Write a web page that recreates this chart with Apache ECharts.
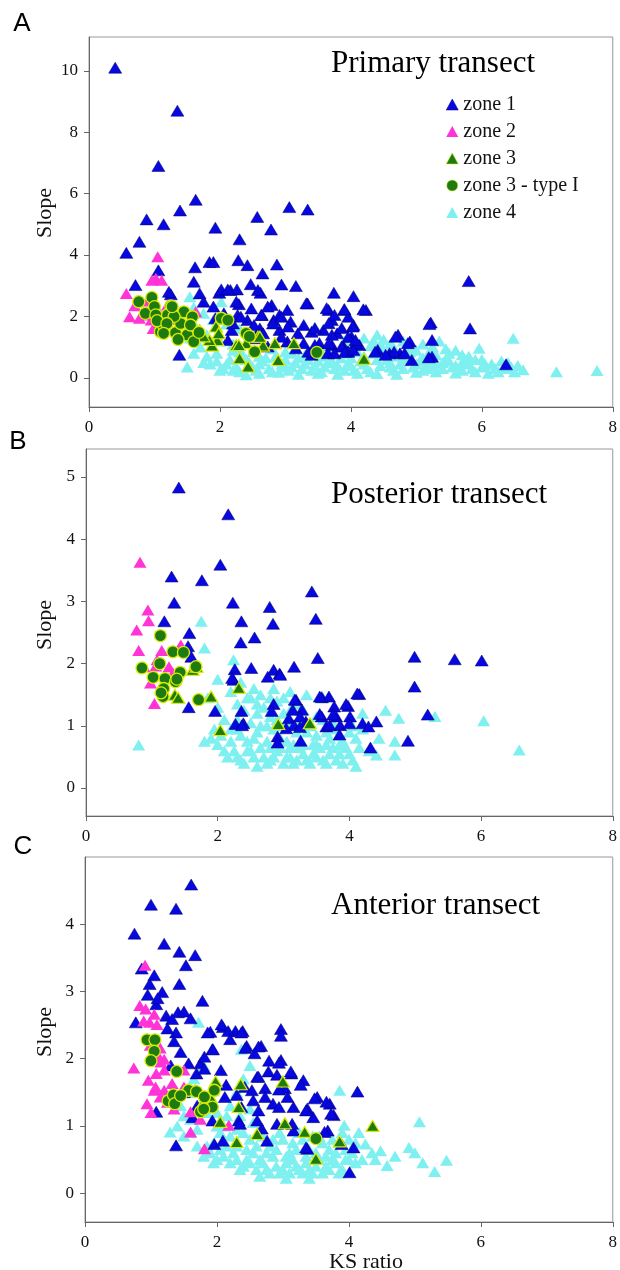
<!DOCTYPE html>
<html lang="en">
<head>
<meta charset="UTF-8">
<title>KS ratio vs slope</title>
<script src="https://cdn.jsdelivr.net/npm/echarts@6.0.0/dist/echarts.min.js"></script>
<style>
body {margin: 0; padding: 0; background: #fff;}
#main {width: 620px; height: 1270px;}
</style>
</head>
<body>
<div id="main"></div>
<script>
// ---- data: [KS ratio, slope] ----
var zoneNames = ['zone 1', 'zone 2', 'zone 3', 'zone 3 - type I', 'zone 4'];
var xTicks = [0, 2, 4, 6, 8];
var yTicksA = [0, 2, 4, 6, 8, 10];
var yTicksB = [0, 1, 2, 3, 4, 5];
var yTicksC = [0, 1, 2, 3, 4];
var panelTitles = ['Primary transect', 'Posterior transect', 'Anterior transect'];

// A: primary transect
var aZone1 = [[0.40,10.1],[1.35,8.7],[1.06,6.9],[1.63,5.8],[1.39,5.45],[0.88,5.16],[1.14,5.0],[3.06,5.56],[3.34,5.48],[2.57,5.24],[1.93,4.89],[2.78,4.83],[2.30,4.51],[0.77,4.43],[0.57,4.07],[1.06,3.5],[1.62,3.6],[1.84,3.77],[1.90,3.77],[2.28,3.83],[2.42,3.67],[2.87,3.69],[2.65,3.40],[1.60,3.13],[0.71,3.02],[2.47,3.05],[2.94,3.04],[3.16,2.99],[5.80,3.15],[2.62,2.77],[1.25,2.72],[1.69,2.75],[1.99,2.77],[2.16,2.86],[2.26,2.88],[3.74,2.77],[4.04,2.66],[3.34,2.42],[2.29,2.40],[2.79,2.37],[3.66,2.21],[3.90,2.21],[4.23,2.21],[1.75,2.48],[2.48,2.26],[3.03,2.21],[2.91,2.05],[2.64,2.05],[2.27,2.05],[1.93,1.94],[2.42,1.88],[2.82,1.88],[3.08,1.83],[3.28,1.72],[3.71,1.88],[4.04,1.72],[5.22,1.80],[5.82,1.61],[2.18,1.56],[2.61,1.61],[2.91,1.56],[3.40,1.50],[3.58,1.56],[3.79,1.45],[4.01,1.34],[4.72,1.40],[5.24,1.23],[4.90,1.18],[2.12,1.23],[2.54,1.29],[3.03,1.18],[3.28,1.13],[3.52,1.13],[3.71,1.07],[3.89,1.02],[4.13,1.07],[4.41,0.91],[4.59,0.80],[4.75,0.80],[4.93,0.58],[5.24,0.69],[1.38,0.75],[3.40,0.75],[3.65,0.80],[3.95,0.86],[6.37,0.44],[3.16,0.96],[1.22,2.8],[2.02,2.88],[2.12,2.88],[2.58,2.86],[1.9,2.32],[2.25,2.48],[2.73,2.32],[3.32,2.43],[3.63,2.27],[2.06,2.1],[2.32,1.99],[2.63,2.05],[2.94,1.99],[3.75,2.05],[3.96,1.99],[2.2,1.77],[2.52,1.72],[2.81,1.77],[3.04,1.67],[3.45,1.62],[3.66,1.78],[3.86,1.62],[2.66,1.45],[2.94,1.34],[3.19,1.45],[3.71,1.4],[3.96,1.34],[2.73,1.02],[3.45,1.07],[3.66,1.13],[3.86,1.02],[4.07,1.13],[3.35,0.85],[3.75,0.8],[3.96,0.85],[3.9,2.24],[4.19,2.23],[4.03,1.67],[5.2,1.75],[4.68,1.34],[4.87,1.13],[4.07,1.23],[4.37,0.85],[4.66,0.85],[4.53,0.75],[4.82,0.8],[5.19,0.67],[3.91,0.85],[4.04,0.91]];
var aZone2 = [[0.57,2.75],[0.62,1.99],[1.05,3.94],[1.02,3.24],[1.11,3.18],[0.96,3.18],[0.95,1.88],[0.98,1.61],[0.77,1.94],[1.2,2.37],[0.7,2.35],[1.2,2.27],[1.63,2.15],[0.85,2.05],[1.1,1.7],[1.3,1.9],[0.9,2.5],[1.05,2.2]];
var aZone3 = [[1.94,1.67],[1.96,1.23],[2.25,1.07],[2.40,1.13],[2.58,1.34],[2.66,1.05],[2.84,1.13],[3.13,1.13],[2.30,0.64],[2.43,0.37],[2.89,0.58],[1.68,1.50],[1.88,1.05],[4.2,0.62],[1.69,1.56],[1.84,1.23],[1.98,1.45],[2.29,1.07],[2.61,1.34],[1.75,1.35]];
var aZone3t1 = [[0.76,2.48],[0.96,2.62],[0.86,2.1],[1.0,2.32],[1.02,2.05],[1.25,2.34],[1.2,2.05],[1.45,2.15],[1.58,1.99],[1.09,1.5],[1.17,1.75],[1.32,1.47],[1.4,1.77],[1.5,1.4],[1.6,1.18],[1.55,1.72],[2.02,1.94],[2.12,1.88],[2.4,1.45],[2.53,0.85],[3.48,0.83],[1.3,2.0],[1.14,1.7],[1.68,1.48],[1.04,1.86],[1.36,1.25],[1.27,2.32],[1.19,1.77],[1.14,1.45],[2.45,1.35]];
var aZone4 = [[1.50,0.35],[1.54,2.64],[2.02,2.48],[1.6,2.3],[1.75,2.1],[1.9,1.9],[2.1,1.75],[2.3,1.6],[1.55,1.3],[1.7,1.0],[1.8,0.7],[1.95,0.55],[6.48,1.29],[5.96,0.96],[7.14,0.2],[7.76,0.24],[6.63,0.26],[6.45,0.35],[6.2,0.3],[6.05,0.45],[5.85,0.3],[5.7,0.5],[5.55,0.35],[5.45,0.6],[5.3,0.45],[5.15,0.3],[5.05,0.55],[4.95,0.35],[4.85,0.7],[4.75,0.45],[4.65,0.25],[4.55,0.6],[4.45,0.4],[4.35,0.8],[4.25,0.3],[4.15,0.55],[4.05,0.25],[3.95,0.45],[3.85,0.65],[3.75,0.3],[3.65,0.5],[3.55,0.2],[3.45,0.4],[3.35,0.6],[3.25,0.3],[3.15,0.5],[3.05,0.25],[2.95,0.45],[2.85,0.7],[2.75,0.3],[2.65,0.55],[2.55,0.25],[2.45,0.5],[2.35,0.75],[2.25,0.35],[2.15,0.6],[2.05,0.3],[1.95,0.8],[1.85,0.45],[2.2,0.9],[2.5,0.85],[2.8,0.95],[3.1,0.8],[3.4,0.85],[3.7,0.9],[4.0,0.95],[4.3,1.05],[4.6,1.1],[4.5,1.25],[4.9,1.0],[5.2,0.85],[5.5,0.8],[5.8,0.7],[6.0,0.6],[6.3,0.55],[3.9,1.2],[4.2,1.3],[4.7,1.35],[4.4,1.4],[5.1,1.1],[5.35,1.2],[2.6,0.15],[2.9,0.18],[3.2,0.12],[3.5,0.15],[3.8,0.12],[4.1,0.15],[4.4,0.14],[4.7,0.12],[5.0,0.18],[5.3,0.2],[5.6,0.16],[5.9,0.2],[6.1,0.15],[2.3,0.2],[2.0,0.25],[1.75,0.5],[2.6,0.7],[3.0,0.6],[3.3,0.75],[3.6,0.7],[3.9,0.8],[4.2,0.7],[4.5,0.75],[4.8,0.55],[5.1,0.65],[5.4,0.5],[5.75,0.55],[6.5,0.2],[6.35,0.3],[2.4,0.1],[3.0,0.35],[3.6,0.35],[4.0,0.4],[4.6,0.35],[5.2,0.35],[1.65,1.6],[1.8,1.4],[2.0,1.2],[2.2,1.1],[1.6,0.8],[2.1,0.45],[2.2,0.25],[2.3,0.85],[2.4,0.6],[2.5,0.35],[2.6,0.45],[2.7,0.65],[2.8,0.2],[2.9,0.55],[3.0,0.85],[3.1,0.35],[3.2,0.65],[3.3,0.45],[3.4,0.25],[3.5,0.55],[3.6,0.85],[3.7,0.6],[3.8,0.4],[3.9,0.25],[4.0,0.65],[4.1,0.85],[4.2,0.45],[4.3,0.2],[4.4,0.6],[4.5,0.9],[4.6,0.5],[4.7,0.7],[4.8,0.3],[4.9,0.85],[5.0,0.45],[5.1,0.25],[5.2,0.6],[5.3,0.75],[5.4,0.3],[5.5,0.55],[5.6,0.4],[5.7,0.25],[5.8,0.45],[5.9,0.6],[6.0,0.35],[6.15,0.45],[6.25,0.2],[6.4,0.5],[6.55,0.4],[4.45,1.1],[4.8,1.2],[5.0,0.9],[5.25,1.0],[5.45,0.95],[4.65,1.0],[4.35,1.2],[4.1,1.1],[5.6,0.9],[5.7,0.75]];

// B: posterior transect
var bZone1 = [[1.41,4.83],[2.16,4.40],[2.04,3.59],[1.30,3.40],[1.76,3.34],[3.43,3.16],[1.34,2.98],[2.23,2.98],[2.79,2.91],[3.49,2.72],[2.36,2.68],[2.84,2.64],[1.19,2.68],[1.57,2.49],[2.56,2.42],[2.35,2.34],[1.55,2.28],[1.6,2.11],[4.99,2.11],[5.6,2.07],[6.01,2.05],[3.52,2.09],[3.16,1.95],[2.51,1.93],[2.26,1.91],[2.85,1.9],[2.94,1.84],[2.76,1.79],[2.24,1.74],[4.99,1.63],[4.15,1.51],[3.19,1.42],[3.58,1.46],[3.69,1.47],[3.98,1.32],[2.85,1.35],[3.28,1.26],[3.77,1.31],[1.56,1.3],[1.96,1.24],[2.36,1.24],[2.82,1.24],[5.19,1.18],[3.08,1.12],[3.58,1.15],[3.8,1.15],[4.01,1.15],[4.41,1.07],[4.2,1.04],[4.29,0.99],[2.27,1.03],[2.39,1.04],[3.16,1.01],[3.34,1.07],[3.65,0.99],[3.86,1.01],[2.91,0.83],[2.91,0.73],[3.26,0.76],[3.85,0.86],[4.89,0.76],[4.32,0.65],[2.22,1.77],[3.17,1.42],[3.55,1.47],[4.12,1.52],[3.14,1.26],[3.25,1.15],[3.55,1.19],[3.75,1.18],[2.37,1.01],[3.04,0.96],[3.25,0.98],[3.7,1.01],[4.0,1.04],[3.95,1.35],[2.95,1.82]];
var bZone2 = [[0.82,3.63],[0.94,2.86],[0.95,2.69],[0.77,2.54],[0.8,2.21],[1.15,2.21],[1.08,2.06],[1.44,2.3],[0.98,1.69],[1.04,1.36],[1.14,1.58],[1.26,1.95],[1.4,2.22],[1.06,1.96],[1.32,1.85],[0.88,1.95]];
var bZone3 = [[2.32,1.61],[1.9,1.47],[1.35,1.5],[1.62,1.9],[2.04,0.93],[2.92,1.03],[3.4,1.04],[1.4,1.45],[1.68,1.95]];
var bZone3t1 = [[1.13,2.45],[1.32,2.19],[1.48,2.18],[0.85,1.93],[1.12,2.0],[1.67,1.95],[1.02,1.78],[1.2,1.76],[1.43,1.86],[1.36,1.71],[1.18,1.6],[1.17,1.47],[1.71,1.42],[1.14,1.53],[1.38,1.75]];
var bZone4 = [[1.8,0.75],[1.9,0.8],[2.0,0.7],[2.1,0.6],[2.2,0.75],[2.3,0.5],[2.4,0.4],[2.5,0.6],[2.6,0.35],[2.7,0.5],[2.8,0.45],[2.9,0.6],[3.0,0.4],[3.1,0.5],[3.2,0.45],[3.3,0.55],[3.4,0.4],[3.5,0.5],[3.6,0.45],[3.7,0.55],[3.8,0.45],[3.9,0.4],[4.0,0.55],[4.1,0.35],[2.2,0.95],[2.3,1.1],[2.4,1.25],[2.5,1.45],[2.55,1.6],[2.65,1.5],[2.7,1.3],[2.8,1.15],[2.9,1.4],[3.0,1.2],[3.1,1.05],[3.2,0.9],[3.3,1.25],[3.4,1.0],[3.5,0.85],[3.6,1.1],[3.7,0.8],[3.8,0.95],[3.9,0.75],[4.0,0.9],[4.1,0.8],[4.2,0.95],[2.35,0.85],[2.6,0.9],[2.75,0.75],[2.85,0.95],[3.05,0.75],[3.25,0.65],[3.45,0.7],[3.55,0.65],[3.75,0.65],[3.95,0.65],[2.45,0.6],[2.65,0.65],[2.95,0.8],[3.15,0.7],[2.1,1.1],[2.3,1.35],[2.45,1.45],[2.0,1.3],[2.2,1.55],[2.25,1.9],[2.0,1.75],[1.85,1.45],[2.35,1.7],[1.75,2.68],[1.8,2.25],[2.24,2.06],[0.8,0.69],[6.04,1.08],[6.58,0.61],[4.55,1.25],[4.75,1.12],[5.3,1.15],[4.69,0.75],[4.69,0.53],[4.41,0.53],[4.3,0.6],[4.45,0.8],[4.2,1.2],[3.95,1.35],[3.6,1.45],[3.35,1.5],[3.1,1.55],[2.85,1.6],[2.15,0.5],[2.25,0.6],[2.35,0.45],[2.55,0.5],[2.75,0.4],[2.85,0.5],[3.05,0.5],[3.15,0.4],[3.35,0.45],[3.45,0.55],[3.65,0.4],[3.85,0.55],[4.05,0.45],[2.3,0.95],[2.5,1.05],[2.6,1.2],[2.75,1.0],[2.9,1.1],[3.0,1.0],[3.1,1.25],[3.25,1.05],[3.35,0.9],[3.5,1.15],[3.65,0.9],[3.75,1.05],[3.85,0.85],[4.05,1.0],[2.45,0.75],[2.55,0.8],[2.65,1.0],[2.8,0.65],[2.95,0.65],[3.1,0.65],[3.3,0.7],[3.5,0.7],[3.65,0.7],[3.85,0.7],[4.15,0.65],[1.95,0.95],[2.05,0.85],[2.6,1.35],[2.8,1.45],[3.0,1.45],[3.2,1.35]];

// C: anterior transect
var cZone1 = [[1.61,4.59],[1.0,4.29],[1.38,4.23],[0.75,3.86],[1.2,3.71],[1.43,3.59],[1.67,3.54],[1.53,3.39],[0.86,3.34],[1.05,3.24],[0.98,3.11],[1.43,3.11],[1.17,2.99],[1.78,2.86],[1.08,2.81],[1.23,2.64],[1.41,2.69],[1.5,2.7],[1.32,2.59],[0.77,2.54],[2.09,2.47],[2.28,2.41],[2.39,2.41],[2.97,2.44],[1.9,2.4],[1.38,2.39],[2.97,2.34],[1.35,2.26],[2.45,2.19],[2.67,2.19],[1.93,2.14],[1.57,1.93],[1.75,1.93],[2.79,1.97],[2.97,1.98],[1.69,1.78],[2.06,1.83],[2.61,1.73],[2.91,1.76],[3.13,1.78],[3.31,1.68],[2.42,1.58],[2.73,1.56],[3.03,1.56],[3.52,1.43],[4.13,1.51],[3.71,1.33],[2.3,1.46],[2.12,1.43],[2.55,1.38],[2.85,1.33],[3.16,1.28],[3.37,1.26],[3.46,1.13],[3.77,1.16],[1.08,1.21],[1.63,1.13],[1.93,1.08],[2.33,1.08],[2.61,1.08],[2.91,1.03],[3.16,0.93],[3.68,0.93],[1.38,0.71],[1.96,0.73],[2.09,0.78],[3.37,0.66],[3.89,0.73],[4.07,0.68],[4.01,0.31],[2.07,2.51],[2.17,2.41],[2.37,2.39],[1.86,2.39],[2.2,2.29],[2.43,2.16],[2.63,2.18],[2.57,2.08],[1.94,2.14],[1.81,2.03],[2.94,1.94],[1.81,1.85],[2.63,1.73],[2.78,1.81],[3.12,1.81],[3.27,1.61],[2.53,1.53],[2.14,1.61],[2.73,1.43],[2.94,1.54],[3.07,1.43],[3.48,1.41],[3.66,1.36],[3.35,1.23],[3.73,1.18],[2.37,1.28],[2.63,1.23],[2.94,1.28],[3.14,1.03],[2.35,1.03],[2.68,0.96],[2.76,0.78],[3.35,0.68],[3.63,0.91],[0.95,2.95],[1.1,2.9],[1.25,2.45],[1.45,2.1],[1.6,2.6],[1.3,1.9],[1.5,1.5],[1.7,1.3]];
var cZone2 = [[0.91,3.39],[0.83,2.79],[0.92,2.74],[1.05,2.66],[0.98,2.54],[0.74,1.86],[1.14,2.16],[1.2,1.99],[1.08,1.78],[1.05,1.53],[1.2,1.53],[0.94,1.33],[1.14,1.43],[1.32,1.63],[1.5,1.83],[1.6,1.21],[1.6,0.91],[1.81,0.66],[2.18,1.01],[1.5,1.58],[0.89,2.56],[1.09,2.51],[0.96,1.68],[1.12,2.03],[1.2,1.83],[1.07,1.58],[1.25,1.35],[0.99,2.2],[1.15,1.95],[1.0,1.2],[1.35,1.25],[1.75,1.1]];
var cZone3 = [[1.98,1.66],[2.36,1.62],[3.0,1.66],[2.33,1.28],[1.77,1.31],[1.9,1.43],[2.05,1.06],[2.3,0.76],[2.61,0.88],[3.03,1.04],[3.33,0.91],[3.5,0.51],[3.86,0.77],[4.36,1.0],[1.67,1.53],[1.93,1.53]];
var cZone3t1 = [[0.94,2.28],[1.06,2.28],[1.05,2.11],[1.0,1.97],[1.39,1.81],[1.26,1.37],[1.34,1.46],[1.36,1.33],[1.57,1.53],[1.69,1.51],[1.81,1.43],[1.75,1.21],[1.93,1.28],[3.5,0.81],[1.96,1.53],[1.8,1.25],[1.45,1.45]];
var cZone4 = [[1.29,0.91],[1.4,1.0],[1.5,0.85],[1.6,1.1],[1.7,0.95],[1.72,2.54],[2.37,2.14],[1.45,1.3],[1.55,1.5],[1.65,1.7],[1.8,1.9],[1.9,1.4],[2.0,1.2],[2.1,1.0],[2.2,0.85],[1.8,0.55],[1.9,0.6],[2.0,0.5],[2.1,0.55],[2.2,0.45],[2.3,0.5],[2.4,0.4],[2.5,0.45],[2.6,0.35],[2.7,0.45],[2.8,0.3],[2.9,0.4],[3.0,0.35],[3.1,0.3],[3.2,0.4],[3.3,0.3],[3.4,0.35],[3.5,0.4],[3.6,0.3],[3.7,0.35],[3.8,0.45],[3.9,0.35],[4.0,0.5],[4.1,0.45],[2.3,0.7],[2.45,0.65],[2.6,0.7],[2.75,0.6],[2.9,0.65],[3.05,0.55],[3.2,0.65],[3.35,0.55],[3.5,0.6],[3.65,0.55],[3.8,0.6],[3.95,0.65],[2.4,0.9],[2.55,1.05],[2.7,0.85],[2.85,0.8],[3.0,0.8],[3.15,0.75],[3.3,0.8],[3.45,0.85],[3.6,0.75],[3.75,0.8],[2.2,1.3],[2.35,1.15],[2.5,1.25],[2.3,1.5],[2.4,1.7],[2.5,1.9],[3.86,1.53],[3.93,1.01],[5.07,1.06],[4.91,0.68],[5.0,0.6],[5.12,0.45],[5.3,0.32],[5.48,0.49],[4.48,0.63],[4.58,0.41],[4.25,0.73],[4.2,0.5],[4.35,0.6],[4.15,0.9],[2.65,0.25],[3.05,0.22],[3.4,0.22],[1.95,0.75],[2.05,0.9],[1.85,0.7],[1.95,0.45],[2.05,0.65],[2.15,0.7],[2.25,0.6],[2.35,0.35],[2.45,0.5],[2.55,0.6],[2.65,0.5],[2.75,0.35],[2.85,0.55],[2.95,0.3],[3.05,0.45],[3.15,0.5],[3.25,0.35],[3.35,0.45],[3.45,0.3],[3.55,0.5],[3.65,0.4],[3.75,0.5],[3.85,0.3],[3.95,0.5],[4.05,0.6],[2.5,0.8],[2.65,0.9],[2.8,0.7],[2.95,0.9],[3.1,0.6],[3.25,0.9],[3.4,0.65],[3.55,0.85],[3.7,0.65],[3.85,0.75],[4.0,0.8],[1.7,0.7],[1.6,0.9],[1.5,1.15],[1.7,1.5],[1.85,1.2],[2.0,1.0],[2.15,1.15],[2.3,0.95],[3.9,0.9],[4.1,0.75],[4.4,0.5],[4.7,0.55]];

var panels = [
  {z1: aZone1, z2: aZone2, z3: aZone3, z3t: aZone3t1, z4: aZone4, yMin: -0.95, yMax: 11.1, yTicks: yTicksA},
  {z1: bZone1, z2: bZone2, z3: bZone3, z3t: bZone3t1, z4: bZone4, yMin: -0.45, yMax: 5.45, yTicks: yTicksB},
  {z1: cZone1, z2: cZone2, z3: cZone3, z3t: cZone3t1, z4: cZone4, yMin: -0.43, yMax: 5.0, yTicks: yTicksC}
];

var serif = '"Liberation Serif", "Times New Roman", serif';
var green = '#1e7b12', yellow = '#d9ec00';

var chart = echarts.init(document.getElementById('main'));

var grids = [
  {left: 89, right: 7, top: 37, height: 370},
  {left: 86, right: 5, top: 449, height: 367},
  {left: 85, right: 5, top: 857, height: 365}
];

var xAxes = [], yAxes = [], series = [];
panels.forEach(function (p, i) {
  grids[i].show = true;
  grids[i].borderColor = '#999';
  grids[i].borderWidth = 1;
  xAxes.push({
    gridIndex: i, type: 'value', min: 0, max: 8, interval: 2,
    axisLine: {show: true, onZero: false, lineStyle: {color: '#666'}},
    axisTick: {show: true, inside: false, length: 5, lineStyle: {color: '#666'}},
    axisLabel: {margin: 12, fontFamily: serif, fontSize: 17, color: '#111'},
    splitLine: {show: false}
  });
  yAxes.push({
    gridIndex: i, type: 'value', min: p.yMin, max: p.yMax,
    axisLine: {show: true, onZero: false, lineStyle: {color: '#666'}},
    axisTick: {show: true, inside: false, length: 5, customValues: p.yTicks, lineStyle: {color: '#666'}},
    axisLabel: {margin: 11, fontFamily: serif, fontSize: 17, color: '#111', customValues: p.yTicks},
    splitLine: {show: false}
  });
  var base = {type: 'scatter', xAxisIndex: i, yAxisIndex: i, symbol: 'triangle', symbolSize: [13, 11]};
  series.push(Object.assign({}, base, {name: 'zone 4', data: p.z4,
    itemStyle: {color: '#7ef0f0', opacity: 1}}));
  series.push(Object.assign({}, base, {name: 'zone 1', data: p.z1,
    itemStyle: {color: '#0707e0', borderColor: '#00006e', borderWidth: 0.5, opacity: 1}}));
  series.push(Object.assign({}, base, {name: 'zone 2', data: p.z2,
    itemStyle: {color: '#ff33d6', opacity: 1}}));
  series.push(Object.assign({}, base, {name: 'zone 3', data: p.z3,
    itemStyle: {color: green, borderColor: yellow, borderWidth: 1.2, opacity: 1}}));
  series.push(Object.assign({}, base, {name: 'zone 3 - type I', data: p.z3t, symbol: 'circle', symbolSize: 12,
    itemStyle: {color: green, borderColor: yellow, borderWidth: 1.3, opacity: 1}}));
});

var titleY = [64, 495, 906];
var slopeY = [213, 625, 1032];
var letters = [['A', 22, 24], ['B', 18, 442], ['C', 23, 847]];
var graphics = [];
panelTitles.forEach(function (t, i) {
  graphics.push({type: 'text', x: 331, y: titleY[i],
    style: {text: t, font: '31px ' + serif, fill: '#000', align: 'left', verticalAlign: 'middle'}});
  graphics.push({type: 'text', x: 45, y: slopeY[i], rotation: Math.PI / 2,
    style: {text: 'Slope', font: '22px ' + serif, fill: '#111', align: 'center', verticalAlign: 'middle'}});
  graphics.push({type: 'text', x: letters[i][1], y: letters[i][2],
    style: {text: letters[i][0], font: '26px "Liberation Sans", Arial, sans-serif', fill: '#000', align: 'center', verticalAlign: 'middle'}});
});
graphics.push({type: 'text', x: 366, y: 1262,
  style: {text: 'KS ratio', font: '22px ' + serif, fill: '#111', align: 'center', verticalAlign: 'middle'}});

chart.setOption({
  animation: false,
  backgroundColor: '#fff',
  grid: grids,
  xAxis: xAxes,
  yAxis: yAxes,
  legend: {
    data: zoneNames,
    orient: 'vertical',
    left: 446, top: 94, padding: 0,
    itemWidth: 12, itemHeight: 11, itemGap: 6,
    itemStyle: {borderWidth: 0.5},
    textStyle: {fontFamily: serif, fontSize: 20, lineHeight: 21, color: '#111'}
  },
  graphic: graphics,
  series: series
});
</script>
</body>
</html>
